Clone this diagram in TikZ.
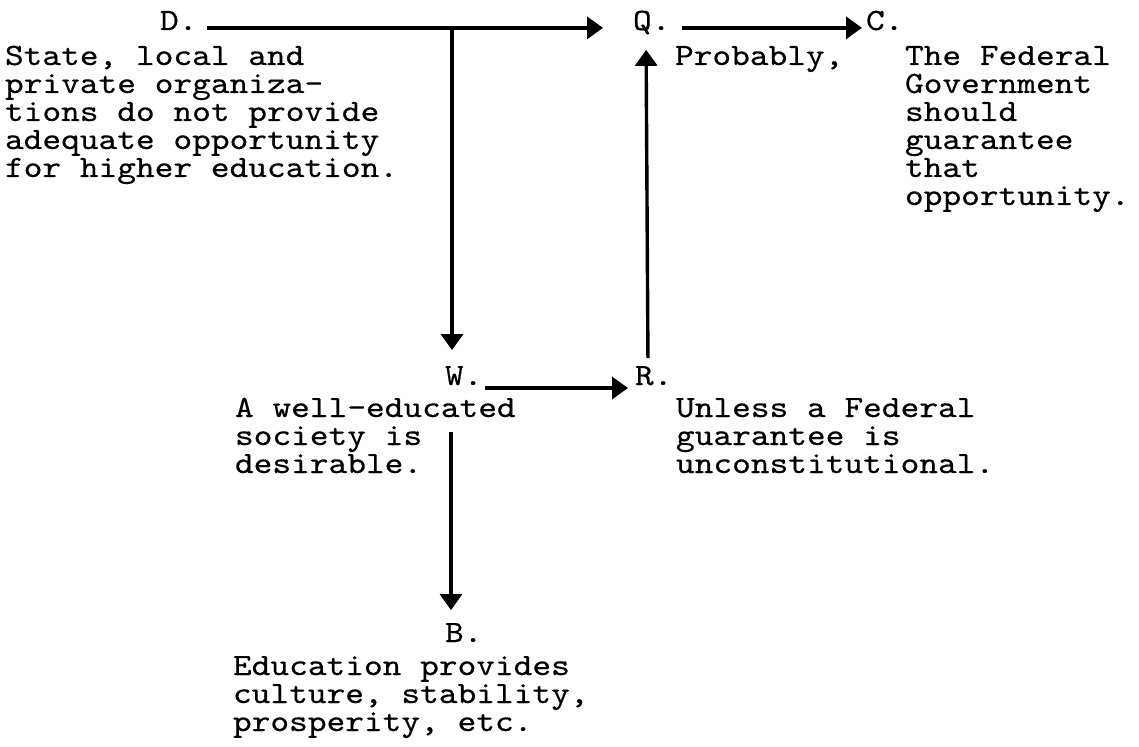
\documentclass[tikz,border=0pt]{standalone}
\usepackage{fontspec}
\usetikzlibrary{arrows.meta}
% typewriter face, widened to a pica pitch and inked a touch heavier
\newfontfamily\typer{lmmono10-regular}[Extension=.otf,FakeStretch=1.15,FakeBold=0.4]
% several typed lines stacked; the box baseline is the first line
\newcommand\typedlines[1]{\vtop{\baselineskip=28pt\lineskiplimit=-100pt
  \halign{##\hfil\cr#1\crcr}}}
\begin{document}
\begin{tikzpicture}[x=1pt,y=-1pt,
  every node/.style={inner sep=0pt,outer sep=0pt,anchor=base west,
    font=\typer\fontsize{31}{28}\selectfont},
  link/.style={line width=3.4pt,-{Triangle[width=22pt,length=16pt]}}]
\useasboundingbox (0,0) rectangle (1139,746);
% labels
\node (D) at (160,30) {D.};
\node (Q) at (633,30) {Q.};
\node (C) at (866,30) {C.};
\node (W) at (445,385) {W.};
\node (R) at (635,385) {R.};
\node (B) at (445,642) {B.};
% statements
\node (dtext) at (5,65) {\typedlines{State, local and\cr
  private organiza-\cr tions do not provide\cr
  adequate opportunity\cr for higher education.}};
\node (qtext) at (675,65) {Probably,};
\node (ctext) at (905,65) {\typedlines{The Federal\cr Government\cr
  should\cr guarantee\cr that\cr opportunity.}};
\node (wtext) at (235,417) {\typedlines{A well-educated\cr
  society is\cr desirable.}};
\node (rtext) at (676,417) {\typedlines{Unless a Federal\cr
  guarantee is\cr unconstitutional.}};
\node (btext) at (233,675) {\typedlines{Education provides\cr
  culture, stability,\cr prosperity, etc.}};
% connectors
\draw[link,shorten <=9.6pt,shorten >=30pt] (D.mid east) -- (Q.mid west);
\coordinate (fork) at ([xshift=7pt]W.base west |- D.mid east);
\draw[link,shorten >=16pt] (fork) -- ([xshift=7pt]W.north west);
\draw[link,shorten <=11.6pt,shorten >=4pt] (Q.mid east) -- (C.mid west);
\draw[link,shorten <=8pt,shorten >=15.5pt] ([xshift=13pt]R.north west) -- ([xshift=13pt]Q.south west);
\draw[link,shorten <=2.6pt,shorten >=7pt] ([yshift=-3pt]W.base east) -- ([yshift=-3pt]R.base west);
\draw[link,shorten <=47pt,shorten >=13pt] ([xshift=6pt]W.south west) -- ([xshift=6pt]B.north west);
\end{tikzpicture}
\end{document}
